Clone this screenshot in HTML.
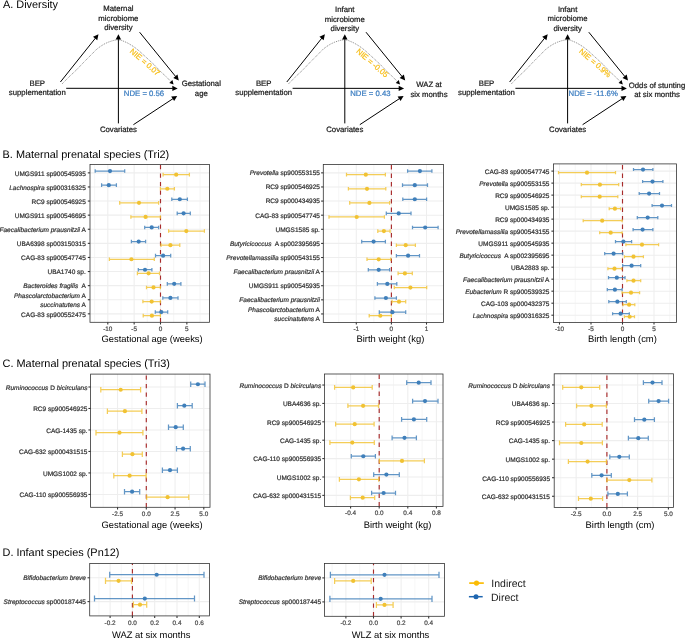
<!DOCTYPE html>
<html><head><meta charset="utf-8"><title>Figure</title>
<style>
html,body{margin:0;padding:0;background:#fff;}
body{width:685px;height:639px;overflow:hidden;}
svg{display:block;font-family:"Liberation Sans", sans-serif;text-rendering:geometricPrecision;will-change:transform;}
</style></head>
<body>
<svg width="685" height="639" viewBox="0 0 685 639">
<rect width="685" height="639" fill="#fff"/>
<text x="3.00" y="7.90" font-size="10.9" text-anchor="start" fill="#000" stroke="#000" stroke-width="0.0" >A. Diversity</text>
<text x="2.60" y="158.00" font-size="10.9" text-anchor="start" fill="#000" stroke="#000" stroke-width="0.0" >B. Maternal prenatal species (Tri2)</text>
<text x="2.60" y="367.10" font-size="10.9" text-anchor="start" fill="#000" stroke="#000" stroke-width="0.0" >C. Maternal prenatal species (Tri3)</text>
<text x="2.60" y="556.20" font-size="10.9" text-anchor="start" fill="#000" stroke="#000" stroke-width="0.0" >D. Infant species (Pn12)</text>
<text x="118.40" y="10.90" font-size="7.75" text-anchor="middle" fill="#1a1a1a" stroke="#1a1a1a" stroke-width="0.22" >Maternal</text>
<text x="118.40" y="20.50" font-size="7.75" text-anchor="middle" fill="#1a1a1a" stroke="#1a1a1a" stroke-width="0.22" >microbiome</text>
<text x="118.40" y="30.10" font-size="7.75" text-anchor="middle" fill="#1a1a1a" stroke="#1a1a1a" stroke-width="0.22" >diversity</text>
<line x1="118.40" y1="123.40" x2="118.40" y2="39.10" stroke="#000" stroke-width="1"/>
<polygon points="118.40,34.20 121.10,39.60 115.70,39.60" fill="#000"/>
<line x1="60.40" y1="82.00" x2="95.44" y2="38.13" stroke="#000" stroke-width="1"/>
<polygon points="98.50,34.30 97.24,40.20 93.02,36.83" fill="#000"/>
<line x1="139.60" y1="32.20" x2="175.71" y2="76.60" stroke="#000" stroke-width="1"/>
<polygon points="178.80,80.40 173.30,77.91 177.49,74.51" fill="#000"/>
<line x1="66.20" y1="88.30" x2="172.80" y2="88.40" stroke="#000" stroke-width="1"/>
<polygon points="177.70,88.40 172.30,91.10 172.30,85.70" fill="#000"/>
<line x1="133.40" y1="124.70" x2="173.11" y2="98.59" stroke="#000" stroke-width="1"/>
<polygon points="177.20,95.90 174.17,101.12 171.20,96.61" fill="#000"/>
<path d="M62.10,83.90 L69.20,76.70 L76.80,69.60 L83.50,62.50 L90.10,55.90 L96.70,49.20 L100.60,46.30 L104.30,44.00 L108.20,42.20 L111.90,40.90 L115.10,40.10 L118.10,39.70 L121.40,40.30 L124.50,41.60 L127.40,42.90 L130.20,44.50 L133.10,46.30 L135.90,48.30 L139.20,51.00 L142.50,54.00 L148.20,59.20 L154.80,65.40 L160.50,71.50 L166.20,76.70 L170.80,81.40" fill="none" stroke="#444" stroke-width="0.65" stroke-dasharray="1.0,1.0" stroke-linejoin="round"/>
<polygon points="173.60,84.40 169.34,82.91 172.41,80.04" fill="#000"/>
<text x="37.30" y="86.10" font-size="7.75" text-anchor="middle" fill="#1a1a1a" stroke="#1a1a1a" stroke-width="0.22" >BEP</text>
<text x="37.30" y="95.20" font-size="7.75" text-anchor="middle" fill="#1a1a1a" stroke="#1a1a1a" stroke-width="0.22" >supplementation</text>
<text x="118.40" y="131.60" font-size="7.75" text-anchor="middle" fill="#1a1a1a" stroke="#1a1a1a" stroke-width="0.22" >Covariates</text>
<text x="201.30" y="86.00" font-size="7.75" text-anchor="middle" fill="#1a1a1a" stroke="#1a1a1a" stroke-width="0.22" >Gestational</text>
<text x="201.30" y="95.60" font-size="7.75" text-anchor="middle" fill="#1a1a1a" stroke="#1a1a1a" stroke-width="0.22" >age</text>
<text x="144.00" y="95.60" font-size="7.75" text-anchor="middle" fill="#3a7cc0" stroke="#3a7cc0" stroke-width="0.22" >NDE = 0.56</text>
<text x="0" y="0" font-size="7.75" fill="#f6bd16" stroke="#f6bd16" stroke-width="0.22" transform="translate(129.30,52.00) rotate(41)">NIE = 0.07</text>
<text x="344.80" y="12.20" font-size="7.75" text-anchor="middle" fill="#1a1a1a" stroke="#1a1a1a" stroke-width="0.22" >Infant</text>
<text x="344.80" y="21.80" font-size="7.75" text-anchor="middle" fill="#1a1a1a" stroke="#1a1a1a" stroke-width="0.22" >microbiome</text>
<text x="344.80" y="31.40" font-size="7.75" text-anchor="middle" fill="#1a1a1a" stroke="#1a1a1a" stroke-width="0.22" >diversity</text>
<line x1="344.80" y1="123.40" x2="344.80" y2="39.10" stroke="#000" stroke-width="1"/>
<polygon points="344.80,34.20 347.50,39.60 342.10,39.60" fill="#000"/>
<line x1="286.80" y1="82.00" x2="321.84" y2="38.13" stroke="#000" stroke-width="1"/>
<polygon points="324.90,34.30 323.64,40.20 319.42,36.83" fill="#000"/>
<line x1="366.00" y1="32.20" x2="402.11" y2="76.60" stroke="#000" stroke-width="1"/>
<polygon points="405.20,80.40 399.70,77.91 403.89,74.51" fill="#000"/>
<line x1="292.60" y1="88.30" x2="399.20" y2="88.40" stroke="#000" stroke-width="1"/>
<polygon points="404.10,88.40 398.70,91.10 398.70,85.70" fill="#000"/>
<line x1="359.80" y1="124.70" x2="399.51" y2="98.59" stroke="#000" stroke-width="1"/>
<polygon points="403.60,95.90 400.57,101.12 397.60,96.61" fill="#000"/>
<path d="M288.50,83.90 L295.60,76.70 L303.20,69.60 L309.90,62.50 L316.50,55.90 L323.10,49.20 L327.00,46.30 L330.70,44.00 L334.60,42.20 L338.30,40.90 L341.50,40.10 L344.50,39.70 L347.80,40.30 L350.90,41.60 L353.80,42.90 L356.60,44.50 L359.50,46.30 L362.30,48.30 L365.60,51.00 L368.90,54.00 L374.60,59.20 L381.20,65.40 L386.90,71.50 L392.60,76.70 L397.20,81.40" fill="none" stroke="#444" stroke-width="0.65" stroke-dasharray="1.0,1.0" stroke-linejoin="round"/>
<polygon points="400.00,84.40 395.74,82.91 398.81,80.04" fill="#000"/>
<text x="263.70" y="86.10" font-size="7.75" text-anchor="middle" fill="#1a1a1a" stroke="#1a1a1a" stroke-width="0.22" >BEP</text>
<text x="263.70" y="95.20" font-size="7.75" text-anchor="middle" fill="#1a1a1a" stroke="#1a1a1a" stroke-width="0.22" >supplementation</text>
<text x="344.80" y="131.60" font-size="7.75" text-anchor="middle" fill="#1a1a1a" stroke="#1a1a1a" stroke-width="0.22" >Covariates</text>
<text x="429.00" y="86.90" font-size="7.75" text-anchor="middle" fill="#1a1a1a" stroke="#1a1a1a" stroke-width="0.22" >WAZ at</text>
<text x="429.00" y="96.50" font-size="7.75" text-anchor="middle" fill="#1a1a1a" stroke="#1a1a1a" stroke-width="0.22" >six months</text>
<text x="370.40" y="95.60" font-size="7.75" text-anchor="middle" fill="#3a7cc0" stroke="#3a7cc0" stroke-width="0.22" >NDE = 0.43</text>
<text x="0" y="0" font-size="7.75" fill="#f6bd16" stroke="#f6bd16" stroke-width="0.22" transform="translate(355.70,52.00) rotate(41)">NIE = -0.05</text>
<text x="567.60" y="11.60" font-size="7.75" text-anchor="middle" fill="#1a1a1a" stroke="#1a1a1a" stroke-width="0.22" >Infant</text>
<text x="567.60" y="21.20" font-size="7.75" text-anchor="middle" fill="#1a1a1a" stroke="#1a1a1a" stroke-width="0.22" >microbiome</text>
<text x="567.60" y="30.80" font-size="7.75" text-anchor="middle" fill="#1a1a1a" stroke="#1a1a1a" stroke-width="0.22" >diversity</text>
<line x1="567.60" y1="123.40" x2="567.60" y2="39.10" stroke="#000" stroke-width="1"/>
<polygon points="567.60,34.20 570.30,39.60 564.90,39.60" fill="#000"/>
<line x1="509.60" y1="82.00" x2="544.64" y2="38.13" stroke="#000" stroke-width="1"/>
<polygon points="547.70,34.30 546.44,40.20 542.22,36.83" fill="#000"/>
<line x1="588.80" y1="32.20" x2="624.91" y2="76.60" stroke="#000" stroke-width="1"/>
<polygon points="628.00,80.40 622.50,77.91 626.69,74.51" fill="#000"/>
<line x1="515.40" y1="88.30" x2="622.00" y2="88.40" stroke="#000" stroke-width="1"/>
<polygon points="626.90,88.40 621.50,91.10 621.50,85.70" fill="#000"/>
<line x1="582.60" y1="124.70" x2="622.31" y2="98.59" stroke="#000" stroke-width="1"/>
<polygon points="626.40,95.90 623.37,101.12 620.40,96.61" fill="#000"/>
<path d="M511.30,83.90 L518.40,76.70 L526.00,69.60 L532.70,62.50 L539.30,55.90 L545.90,49.20 L549.80,46.30 L553.50,44.00 L557.40,42.20 L561.10,40.90 L564.30,40.10 L567.30,39.70 L570.60,40.30 L573.70,41.60 L576.60,42.90 L579.40,44.50 L582.30,46.30 L585.10,48.30 L588.40,51.00 L591.70,54.00 L597.40,59.20 L604.00,65.40 L609.70,71.50 L615.40,76.70 L620.00,81.40" fill="none" stroke="#444" stroke-width="0.65" stroke-dasharray="1.0,1.0" stroke-linejoin="round"/>
<polygon points="622.80,84.40 618.54,82.91 621.61,80.04" fill="#000"/>
<text x="486.50" y="86.10" font-size="7.75" text-anchor="middle" fill="#1a1a1a" stroke="#1a1a1a" stroke-width="0.22" >BEP</text>
<text x="486.50" y="95.20" font-size="7.75" text-anchor="middle" fill="#1a1a1a" stroke="#1a1a1a" stroke-width="0.22" >supplementation</text>
<text x="567.60" y="131.60" font-size="7.75" text-anchor="middle" fill="#1a1a1a" stroke="#1a1a1a" stroke-width="0.22" >Covariates</text>
<text x="657.00" y="87.80" font-size="7.75" text-anchor="middle" fill="#1a1a1a" stroke="#1a1a1a" stroke-width="0.22" >Odds of stunting</text>
<text x="657.00" y="97.40" font-size="7.75" text-anchor="middle" fill="#1a1a1a" stroke="#1a1a1a" stroke-width="0.22" >at six months</text>
<text x="593.20" y="95.60" font-size="7.75" text-anchor="middle" fill="#3a7cc0" stroke="#3a7cc0" stroke-width="0.22" >NDE = -11.6%</text>
<text x="0" y="0" font-size="7.75" fill="#f6bd16" stroke="#f6bd16" stroke-width="0.22" transform="translate(578.50,52.00) rotate(41)">NIE = 0.9%</text>
<g>
<line x1="94.62" y1="164.40" x2="94.62" y2="322.30" stroke="#eeeeee" stroke-width="0.55"/>
<line x1="120.97" y1="164.40" x2="120.97" y2="322.30" stroke="#eeeeee" stroke-width="0.55"/>
<line x1="147.32" y1="164.40" x2="147.32" y2="322.30" stroke="#eeeeee" stroke-width="0.55"/>
<line x1="173.68" y1="164.40" x2="173.68" y2="322.30" stroke="#eeeeee" stroke-width="0.55"/>
<line x1="200.03" y1="164.40" x2="200.03" y2="322.30" stroke="#eeeeee" stroke-width="0.55"/>
<line x1="107.80" y1="164.40" x2="107.80" y2="322.30" stroke="#eeeeee" stroke-width="1.07"/>
<line x1="134.15" y1="164.40" x2="134.15" y2="322.30" stroke="#eeeeee" stroke-width="1.07"/>
<line x1="160.50" y1="164.40" x2="160.50" y2="322.30" stroke="#eeeeee" stroke-width="1.07"/>
<line x1="186.85" y1="164.40" x2="186.85" y2="322.30" stroke="#eeeeee" stroke-width="1.07"/>
<line x1="90.00" y1="172.86" x2="209.40" y2="172.86" stroke="#eeeeee" stroke-width="1.07"/>
<line x1="90.00" y1="186.96" x2="209.40" y2="186.96" stroke="#eeeeee" stroke-width="1.07"/>
<line x1="90.00" y1="201.06" x2="209.40" y2="201.06" stroke="#eeeeee" stroke-width="1.07"/>
<line x1="90.00" y1="215.15" x2="209.40" y2="215.15" stroke="#eeeeee" stroke-width="1.07"/>
<line x1="90.00" y1="229.25" x2="209.40" y2="229.25" stroke="#eeeeee" stroke-width="1.07"/>
<line x1="90.00" y1="243.35" x2="209.40" y2="243.35" stroke="#eeeeee" stroke-width="1.07"/>
<line x1="90.00" y1="257.45" x2="209.40" y2="257.45" stroke="#eeeeee" stroke-width="1.07"/>
<line x1="90.00" y1="271.55" x2="209.40" y2="271.55" stroke="#eeeeee" stroke-width="1.07"/>
<line x1="90.00" y1="285.64" x2="209.40" y2="285.64" stroke="#eeeeee" stroke-width="1.07"/>
<line x1="90.00" y1="299.74" x2="209.40" y2="299.74" stroke="#eeeeee" stroke-width="1.07"/>
<line x1="90.00" y1="313.84" x2="209.40" y2="313.84" stroke="#eeeeee" stroke-width="1.07"/>
<line x1="160.50" y1="322.30" x2="160.50" y2="164.40" stroke="#a82c2c" stroke-width="1.15" stroke-dasharray="4.3,4.2"/>
<path d="M95.20,171.05H124.70M95.20,169.26V172.85M124.70,169.26V172.85" stroke="#3f7fba" stroke-width="1.25" stroke-opacity="0.82" fill="none"/>
<circle cx="110.00" cy="171.05" r="2.1" fill="#3f7fba"/>
<path d="M101.60,185.15H116.40M101.60,183.36V186.95M116.40,183.36V186.95" stroke="#3f7fba" stroke-width="1.25" stroke-opacity="0.82" fill="none"/>
<circle cx="108.80" cy="185.15" r="2.1" fill="#3f7fba"/>
<path d="M171.80,199.25H187.40M171.80,197.45V201.05M187.40,197.45V201.05" stroke="#3f7fba" stroke-width="1.25" stroke-opacity="0.82" fill="none"/>
<circle cx="179.80" cy="199.25" r="2.1" fill="#3f7fba"/>
<path d="M177.20,213.35H190.30M177.20,211.55V215.15M190.30,211.55V215.15" stroke="#3f7fba" stroke-width="1.25" stroke-opacity="0.82" fill="none"/>
<circle cx="183.60" cy="213.35" r="2.1" fill="#3f7fba"/>
<path d="M144.70,227.45H158.60M144.70,225.65V229.24M158.60,225.65V229.24" stroke="#3f7fba" stroke-width="1.25" stroke-opacity="0.82" fill="none"/>
<circle cx="151.70" cy="227.45" r="2.1" fill="#3f7fba"/>
<path d="M131.40,241.55H145.60M131.40,239.75V243.34M145.60,239.75V243.34" stroke="#3f7fba" stroke-width="1.25" stroke-opacity="0.82" fill="none"/>
<circle cx="138.70" cy="241.55" r="2.1" fill="#3f7fba"/>
<path d="M155.50,255.64H170.70M155.50,253.85V257.44M170.70,253.85V257.44" stroke="#3f7fba" stroke-width="1.25" stroke-opacity="0.82" fill="none"/>
<circle cx="163.10" cy="255.64" r="2.1" fill="#3f7fba"/>
<path d="M138.30,269.74H151.90M138.30,267.94V271.54M151.90,267.94V271.54" stroke="#3f7fba" stroke-width="1.25" stroke-opacity="0.82" fill="none"/>
<circle cx="145.00" cy="269.74" r="2.1" fill="#3f7fba"/>
<path d="M167.30,283.84H180.90M167.30,282.04V285.64M180.90,282.04V285.64" stroke="#3f7fba" stroke-width="1.25" stroke-opacity="0.82" fill="none"/>
<circle cx="174.20" cy="283.84" r="2.1" fill="#3f7fba"/>
<path d="M162.80,297.94H178.00M162.80,296.14V299.74M178.00,296.14V299.74" stroke="#3f7fba" stroke-width="1.25" stroke-opacity="0.82" fill="none"/>
<circle cx="170.40" cy="297.94" r="2.1" fill="#3f7fba"/>
<path d="M155.30,312.04H167.70M155.30,310.24V313.83M167.70,310.24V313.83" stroke="#3f7fba" stroke-width="1.25" stroke-opacity="0.82" fill="none"/>
<circle cx="161.30" cy="312.04" r="2.1" fill="#3f7fba"/>
<path d="M163.10,174.66H189.40M163.10,172.87V176.46M189.40,172.87V176.46" stroke="#f1c232" stroke-width="1.25" stroke-opacity="0.82" fill="none"/>
<circle cx="176.20" cy="174.66" r="2.1" fill="#f1c232"/>
<path d="M160.40,188.76H174.40M160.40,186.96V190.56M174.40,186.96V190.56" stroke="#f1c232" stroke-width="1.25" stroke-opacity="0.82" fill="none"/>
<circle cx="167.30" cy="188.76" r="2.1" fill="#f1c232"/>
<path d="M119.70,202.86H158.60M119.70,201.06V204.66M158.60,201.06V204.66" stroke="#f1c232" stroke-width="1.25" stroke-opacity="0.82" fill="none"/>
<circle cx="139.00" cy="202.86" r="2.1" fill="#f1c232"/>
<path d="M130.90,216.96H160.40M130.90,215.16V218.76M160.40,215.16V218.76" stroke="#f1c232" stroke-width="1.25" stroke-opacity="0.82" fill="none"/>
<circle cx="145.60" cy="216.96" r="2.1" fill="#f1c232"/>
<path d="M168.60,231.06H204.40M168.60,229.26V232.85M204.40,229.26V232.85" stroke="#f1c232" stroke-width="1.25" stroke-opacity="0.82" fill="none"/>
<circle cx="186.30" cy="231.06" r="2.1" fill="#f1c232"/>
<path d="M161.00,245.15H179.80M161.00,243.36V246.95M179.80,243.36V246.95" stroke="#f1c232" stroke-width="1.25" stroke-opacity="0.82" fill="none"/>
<circle cx="170.40" cy="245.15" r="2.1" fill="#f1c232"/>
<path d="M109.40,259.25H154.30M109.40,257.46V261.05M154.30,257.46V261.05" stroke="#f1c232" stroke-width="1.25" stroke-opacity="0.82" fill="none"/>
<circle cx="131.40" cy="259.25" r="2.1" fill="#f1c232"/>
<path d="M137.40,273.35H159.50M137.40,271.55V275.15M159.50,271.55V275.15" stroke="#f1c232" stroke-width="1.25" stroke-opacity="0.82" fill="none"/>
<circle cx="148.60" cy="273.35" r="2.1" fill="#f1c232"/>
<path d="M146.50,287.45H160.40M146.50,285.65V289.25M160.40,285.65V289.25" stroke="#f1c232" stroke-width="1.25" stroke-opacity="0.82" fill="none"/>
<circle cx="153.50" cy="287.45" r="2.1" fill="#f1c232"/>
<path d="M142.90,301.55H160.40M142.90,299.75V303.34M160.40,299.75V303.34" stroke="#f1c232" stroke-width="1.25" stroke-opacity="0.82" fill="none"/>
<circle cx="151.70" cy="301.55" r="2.1" fill="#f1c232"/>
<path d="M143.20,315.65H160.40M143.20,313.85V317.44M160.40,313.85V317.44" stroke="#f1c232" stroke-width="1.25" stroke-opacity="0.82" fill="none"/>
<circle cx="151.90" cy="315.65" r="2.1" fill="#f1c232"/>
<rect x="90.00" y="164.40" width="119.40" height="157.90" fill="none" stroke="#333333" stroke-width="0.8"/>
<line x1="87.80" y1="172.86" x2="90.00" y2="172.86" stroke="#333333" stroke-width="1.07"/>
<text x="85.80" y="175.66" font-size="6.5" text-anchor="end" fill="#333" stroke="#333" stroke-width="0.22" >UMGS911 sp900545935</text>
<line x1="87.80" y1="186.96" x2="90.00" y2="186.96" stroke="#333333" stroke-width="1.07"/>
<text x="85.80" y="189.76" font-size="6.5" text-anchor="end" fill="#333" stroke="#333" stroke-width="0.22" ><tspan font-style="italic">Lachnospira</tspan> sp900316325</text>
<line x1="87.80" y1="201.06" x2="90.00" y2="201.06" stroke="#333333" stroke-width="1.07"/>
<text x="85.80" y="203.86" font-size="6.5" text-anchor="end" fill="#333" stroke="#333" stroke-width="0.22" >RC9 sp900546925</text>
<line x1="87.80" y1="215.15" x2="90.00" y2="215.15" stroke="#333333" stroke-width="1.07"/>
<text x="85.80" y="217.95" font-size="6.5" text-anchor="end" fill="#333" stroke="#333" stroke-width="0.22" >UMGS911 sp900546695</text>
<line x1="87.80" y1="229.25" x2="90.00" y2="229.25" stroke="#333333" stroke-width="1.07"/>
<text x="85.80" y="232.05" font-size="6.5" text-anchor="end" fill="#333" stroke="#333" stroke-width="0.22" ><tspan font-style="italic">Faecalibacterium prausnitzii</tspan> A</text>
<line x1="87.80" y1="243.35" x2="90.00" y2="243.35" stroke="#333333" stroke-width="1.07"/>
<text x="85.80" y="246.15" font-size="6.5" text-anchor="end" fill="#333" stroke="#333" stroke-width="0.22" >UBA6398 sp003150315</text>
<line x1="87.80" y1="257.45" x2="90.00" y2="257.45" stroke="#333333" stroke-width="1.07"/>
<text x="85.80" y="260.25" font-size="6.5" text-anchor="end" fill="#333" stroke="#333" stroke-width="0.22" >CAG-83 sp900547745</text>
<line x1="87.80" y1="271.55" x2="90.00" y2="271.55" stroke="#333333" stroke-width="1.07"/>
<text x="85.80" y="274.35" font-size="6.5" text-anchor="end" fill="#333" stroke="#333" stroke-width="0.22" >UBA1740 sp.</text>
<line x1="87.80" y1="285.64" x2="90.00" y2="285.64" stroke="#333333" stroke-width="1.07"/>
<text x="85.80" y="288.44" font-size="6.5" text-anchor="end" fill="#333" stroke="#333" stroke-width="0.22" ><tspan font-style="italic">Bacteroides fragilis</tspan>&#160; A</text>
<line x1="87.80" y1="299.74" x2="90.00" y2="299.74" stroke="#333333" stroke-width="1.07"/>
<text x="85.80" y="298.14" font-size="6.5" text-anchor="end" fill="#333" stroke="#333" stroke-width="0.22" ><tspan font-style="italic">Phascolarctobacterium</tspan> A</text>
<text x="85.80" y="306.84" font-size="6.5" text-anchor="end" fill="#333" stroke="#333" stroke-width="0.22" ><tspan font-style="italic">succinatutens</tspan> A</text>
<line x1="87.80" y1="313.84" x2="90.00" y2="313.84" stroke="#333333" stroke-width="1.07"/>
<text x="85.80" y="316.64" font-size="6.5" text-anchor="end" fill="#333" stroke="#333" stroke-width="0.22" >CAG-83 sp900552475</text>
<line x1="107.80" y1="322.30" x2="107.80" y2="324.50" stroke="#333333" stroke-width="1.07"/>
<text x="107.80" y="330.90" font-size="6.4" text-anchor="middle" fill="#4d4d4d" stroke="#4d4d4d" stroke-width="0.22" >-10</text>
<line x1="134.15" y1="322.30" x2="134.15" y2="324.50" stroke="#333333" stroke-width="1.07"/>
<text x="134.15" y="330.90" font-size="6.4" text-anchor="middle" fill="#4d4d4d" stroke="#4d4d4d" stroke-width="0.22" >-5</text>
<line x1="160.50" y1="322.30" x2="160.50" y2="324.50" stroke="#333333" stroke-width="1.07"/>
<text x="160.50" y="330.90" font-size="6.4" text-anchor="middle" fill="#4d4d4d" stroke="#4d4d4d" stroke-width="0.22" >0</text>
<line x1="186.85" y1="322.30" x2="186.85" y2="324.50" stroke="#333333" stroke-width="1.07"/>
<text x="186.85" y="330.90" font-size="6.4" text-anchor="middle" fill="#4d4d4d" stroke="#4d4d4d" stroke-width="0.22" >5</text>
<text x="152.10" y="342.20" font-size="9.4" text-anchor="middle" fill="#000" stroke="#000" stroke-width="0.0" >Gestational age (weeks)</text>
</g>
<g>
<line x1="338.75" y1="164.40" x2="338.75" y2="322.40" stroke="#eeeeee" stroke-width="0.55"/>
<line x1="373.85" y1="164.40" x2="373.85" y2="322.40" stroke="#eeeeee" stroke-width="0.55"/>
<line x1="408.95" y1="164.40" x2="408.95" y2="322.40" stroke="#eeeeee" stroke-width="0.55"/>
<line x1="356.30" y1="164.40" x2="356.30" y2="322.40" stroke="#eeeeee" stroke-width="1.07"/>
<line x1="391.40" y1="164.40" x2="391.40" y2="322.40" stroke="#eeeeee" stroke-width="1.07"/>
<line x1="426.50" y1="164.40" x2="426.50" y2="322.40" stroke="#eeeeee" stroke-width="1.07"/>
<line x1="323.30" y1="172.86" x2="443.40" y2="172.86" stroke="#eeeeee" stroke-width="1.07"/>
<line x1="323.30" y1="186.97" x2="443.40" y2="186.97" stroke="#eeeeee" stroke-width="1.07"/>
<line x1="323.30" y1="201.08" x2="443.40" y2="201.08" stroke="#eeeeee" stroke-width="1.07"/>
<line x1="323.30" y1="215.19" x2="443.40" y2="215.19" stroke="#eeeeee" stroke-width="1.07"/>
<line x1="323.30" y1="229.29" x2="443.40" y2="229.29" stroke="#eeeeee" stroke-width="1.07"/>
<line x1="323.30" y1="243.40" x2="443.40" y2="243.40" stroke="#eeeeee" stroke-width="1.07"/>
<line x1="323.30" y1="257.51" x2="443.40" y2="257.51" stroke="#eeeeee" stroke-width="1.07"/>
<line x1="323.30" y1="271.61" x2="443.40" y2="271.61" stroke="#eeeeee" stroke-width="1.07"/>
<line x1="323.30" y1="285.72" x2="443.40" y2="285.72" stroke="#eeeeee" stroke-width="1.07"/>
<line x1="323.30" y1="299.83" x2="443.40" y2="299.83" stroke="#eeeeee" stroke-width="1.07"/>
<line x1="323.30" y1="313.94" x2="443.40" y2="313.94" stroke="#eeeeee" stroke-width="1.07"/>
<line x1="391.40" y1="322.40" x2="391.40" y2="164.40" stroke="#a82c2c" stroke-width="1.15" stroke-dasharray="4.3,4.2"/>
<path d="M407.60,171.06H431.90M407.60,169.26V172.86M431.90,169.26V172.86" stroke="#3f7fba" stroke-width="1.25" stroke-opacity="0.82" fill="none"/>
<circle cx="419.90" cy="171.06" r="2.1" fill="#3f7fba"/>
<path d="M402.50,185.17H427.50M402.50,183.37V186.96M427.50,183.37V186.96" stroke="#3f7fba" stroke-width="1.25" stroke-opacity="0.82" fill="none"/>
<circle cx="414.80" cy="185.17" r="2.1" fill="#3f7fba"/>
<path d="M402.80,199.27H426.60M402.80,197.47V201.07M426.60,197.47V201.07" stroke="#3f7fba" stroke-width="1.25" stroke-opacity="0.82" fill="none"/>
<circle cx="414.80" cy="199.27" r="2.1" fill="#3f7fba"/>
<path d="M386.30,213.38H411.00M386.30,211.58V215.18M411.00,211.58V215.18" stroke="#3f7fba" stroke-width="1.25" stroke-opacity="0.82" fill="none"/>
<circle cx="398.70" cy="213.38" r="2.1" fill="#3f7fba"/>
<path d="M412.50,227.49H438.10M412.50,225.69V229.29M438.10,225.69V229.29" stroke="#3f7fba" stroke-width="1.25" stroke-opacity="0.82" fill="none"/>
<circle cx="425.20" cy="227.49" r="2.1" fill="#3f7fba"/>
<path d="M361.70,241.59H385.40M361.70,239.80V243.39M385.40,239.80V243.39" stroke="#3f7fba" stroke-width="1.25" stroke-opacity="0.82" fill="none"/>
<circle cx="373.60" cy="241.59" r="2.1" fill="#3f7fba"/>
<path d="M396.40,255.70H419.50M396.40,253.90V257.50M419.50,253.90V257.50" stroke="#3f7fba" stroke-width="1.25" stroke-opacity="0.82" fill="none"/>
<circle cx="408.10" cy="255.70" r="2.1" fill="#3f7fba"/>
<path d="M368.30,269.81H389.60M368.30,268.01V271.61M389.60,268.01V271.61" stroke="#3f7fba" stroke-width="1.25" stroke-opacity="0.82" fill="none"/>
<circle cx="378.70" cy="269.81" r="2.1" fill="#3f7fba"/>
<path d="M377.40,283.92H396.80M377.40,282.12V285.71M396.80,282.12V285.71" stroke="#3f7fba" stroke-width="1.25" stroke-opacity="0.82" fill="none"/>
<circle cx="387.30" cy="283.92" r="2.1" fill="#3f7fba"/>
<path d="M374.90,298.02H396.40M374.90,296.22V299.82M396.40,296.22V299.82" stroke="#3f7fba" stroke-width="1.25" stroke-opacity="0.82" fill="none"/>
<circle cx="385.90" cy="298.02" r="2.1" fill="#3f7fba"/>
<path d="M379.30,312.13H405.70M379.30,310.33V313.93M405.70,310.33V313.93" stroke="#3f7fba" stroke-width="1.25" stroke-opacity="0.82" fill="none"/>
<circle cx="392.40" cy="312.13" r="2.1" fill="#3f7fba"/>
<path d="M346.50,174.67H385.40M346.50,172.87V176.47M385.40,172.87V176.47" stroke="#f1c232" stroke-width="1.25" stroke-opacity="0.82" fill="none"/>
<circle cx="365.80" cy="174.67" r="2.1" fill="#f1c232"/>
<path d="M348.40,188.78H385.80M348.40,186.98V190.58M385.80,186.98V190.58" stroke="#f1c232" stroke-width="1.25" stroke-opacity="0.82" fill="none"/>
<circle cx="367.00" cy="188.78" r="2.1" fill="#f1c232"/>
<path d="M349.70,202.88H389.60M349.70,201.09V204.68M389.60,201.09V204.68" stroke="#f1c232" stroke-width="1.25" stroke-opacity="0.82" fill="none"/>
<circle cx="369.40" cy="202.88" r="2.1" fill="#f1c232"/>
<path d="M329.00,216.99H384.40M329.00,215.19V218.79M384.40,215.19V218.79" stroke="#f1c232" stroke-width="1.25" stroke-opacity="0.82" fill="none"/>
<circle cx="356.70" cy="216.99" r="2.1" fill="#f1c232"/>
<path d="M377.80,231.10H390.10M377.80,229.30V232.90M390.10,229.30V232.90" stroke="#f1c232" stroke-width="1.25" stroke-opacity="0.82" fill="none"/>
<circle cx="383.90" cy="231.10" r="2.1" fill="#f1c232"/>
<path d="M396.40,245.21H415.40M396.40,243.41V247.00M415.40,243.41V247.00" stroke="#f1c232" stroke-width="1.25" stroke-opacity="0.82" fill="none"/>
<circle cx="405.70" cy="245.21" r="2.1" fill="#f1c232"/>
<path d="M367.00,259.31H390.70M367.00,257.51V261.11M390.70,257.51V261.11" stroke="#f1c232" stroke-width="1.25" stroke-opacity="0.82" fill="none"/>
<circle cx="378.70" cy="259.31" r="2.1" fill="#f1c232"/>
<path d="M398.10,273.42H412.30M398.10,271.62V275.22M412.30,271.62V275.22" stroke="#f1c232" stroke-width="1.25" stroke-opacity="0.82" fill="none"/>
<circle cx="404.90" cy="273.42" r="2.1" fill="#f1c232"/>
<path d="M394.30,287.53H426.70M394.30,285.73V289.33M426.70,285.73V289.33" stroke="#f1c232" stroke-width="1.25" stroke-opacity="0.82" fill="none"/>
<circle cx="410.40" cy="287.53" r="2.1" fill="#f1c232"/>
<path d="M392.00,301.63H405.70M392.00,299.84V303.43M405.70,299.84V303.43" stroke="#f1c232" stroke-width="1.25" stroke-opacity="0.82" fill="none"/>
<circle cx="399.00" cy="301.63" r="2.1" fill="#f1c232"/>
<path d="M369.20,315.74H391.40M369.20,313.94V317.54M391.40,313.94V317.54" stroke="#f1c232" stroke-width="1.25" stroke-opacity="0.82" fill="none"/>
<circle cx="380.30" cy="315.74" r="2.1" fill="#f1c232"/>
<rect x="323.30" y="164.40" width="120.10" height="158.00" fill="none" stroke="#333333" stroke-width="0.8"/>
<line x1="321.10" y1="172.86" x2="323.30" y2="172.86" stroke="#333333" stroke-width="1.07"/>
<text x="319.90" y="175.26" font-size="6.5" text-anchor="end" fill="#333" stroke="#333" stroke-width="0.22" ><tspan font-style="italic">Prevotella</tspan> sp900553155</text>
<line x1="321.10" y1="186.97" x2="323.30" y2="186.97" stroke="#333333" stroke-width="1.07"/>
<text x="319.90" y="189.37" font-size="6.5" text-anchor="end" fill="#333" stroke="#333" stroke-width="0.22" >RC9 sp900546925</text>
<line x1="321.10" y1="201.08" x2="323.30" y2="201.08" stroke="#333333" stroke-width="1.07"/>
<text x="319.90" y="203.48" font-size="6.5" text-anchor="end" fill="#333" stroke="#333" stroke-width="0.22" >RC9 sp000434935</text>
<line x1="321.10" y1="215.19" x2="323.30" y2="215.19" stroke="#333333" stroke-width="1.07"/>
<text x="319.90" y="217.59" font-size="6.5" text-anchor="end" fill="#333" stroke="#333" stroke-width="0.22" >CAG-83 sp900547745</text>
<line x1="321.10" y1="229.29" x2="323.30" y2="229.29" stroke="#333333" stroke-width="1.07"/>
<text x="319.90" y="231.69" font-size="6.5" text-anchor="end" fill="#333" stroke="#333" stroke-width="0.22" >UMGS1585 sp.</text>
<line x1="321.10" y1="243.40" x2="323.30" y2="243.40" stroke="#333333" stroke-width="1.07"/>
<text x="319.90" y="245.80" font-size="6.5" text-anchor="end" fill="#333" stroke="#333" stroke-width="0.22" ><tspan font-style="italic">Butyricicoccus</tspan>&#160; A sp002395695</text>
<line x1="321.10" y1="257.51" x2="323.30" y2="257.51" stroke="#333333" stroke-width="1.07"/>
<text x="319.90" y="259.91" font-size="6.5" text-anchor="end" fill="#333" stroke="#333" stroke-width="0.22" ><tspan font-style="italic">Prevotellamassilia</tspan> sp900543155</text>
<line x1="321.10" y1="271.61" x2="323.30" y2="271.61" stroke="#333333" stroke-width="1.07"/>
<text x="319.90" y="274.01" font-size="6.5" text-anchor="end" fill="#333" stroke="#333" stroke-width="0.22" ><tspan font-style="italic">Faecalibacterium prausnitzii</tspan> A</text>
<line x1="321.10" y1="285.72" x2="323.30" y2="285.72" stroke="#333333" stroke-width="1.07"/>
<text x="319.90" y="288.12" font-size="6.5" text-anchor="end" fill="#333" stroke="#333" stroke-width="0.22" >UMGS911 sp900545935</text>
<line x1="321.10" y1="299.83" x2="323.30" y2="299.83" stroke="#333333" stroke-width="1.07"/>
<text x="319.90" y="302.23" font-size="6.5" text-anchor="end" fill="#333" stroke="#333" stroke-width="0.22" ><tspan font-style="italic">Faecalibacterium prausnitzii</tspan></text>
<line x1="321.10" y1="313.94" x2="323.30" y2="313.94" stroke="#333333" stroke-width="1.07"/>
<text x="319.90" y="311.94" font-size="6.5" text-anchor="end" fill="#333" stroke="#333" stroke-width="0.22" ><tspan font-style="italic">Phascolarctobacterium</tspan> A</text>
<text x="319.90" y="320.64" font-size="6.5" text-anchor="end" fill="#333" stroke="#333" stroke-width="0.22" ><tspan font-style="italic">succinatutens</tspan> A</text>
<line x1="356.30" y1="322.40" x2="356.30" y2="324.60" stroke="#333333" stroke-width="1.07"/>
<text x="356.30" y="331.00" font-size="6.4" text-anchor="middle" fill="#4d4d4d" stroke="#4d4d4d" stroke-width="0.22" >-1</text>
<line x1="391.40" y1="322.40" x2="391.40" y2="324.60" stroke="#333333" stroke-width="1.07"/>
<text x="391.40" y="331.00" font-size="6.4" text-anchor="middle" fill="#4d4d4d" stroke="#4d4d4d" stroke-width="0.22" >0</text>
<line x1="426.50" y1="322.40" x2="426.50" y2="324.60" stroke="#333333" stroke-width="1.07"/>
<text x="426.50" y="331.00" font-size="6.4" text-anchor="middle" fill="#4d4d4d" stroke="#4d4d4d" stroke-width="0.22" >1</text>
<text x="390.40" y="342.20" font-size="9.4" text-anchor="middle" fill="#000" stroke="#000" stroke-width="0.0" >Birth weight (kg)</text>
</g>
<g>
<line x1="575.25" y1="163.90" x2="575.25" y2="322.40" stroke="#eeeeee" stroke-width="0.55"/>
<line x1="606.75" y1="163.90" x2="606.75" y2="322.40" stroke="#eeeeee" stroke-width="0.55"/>
<line x1="638.25" y1="163.90" x2="638.25" y2="322.40" stroke="#eeeeee" stroke-width="0.55"/>
<line x1="669.75" y1="163.90" x2="669.75" y2="322.40" stroke="#eeeeee" stroke-width="0.55"/>
<line x1="559.50" y1="163.90" x2="559.50" y2="322.40" stroke="#eeeeee" stroke-width="1.07"/>
<line x1="591.00" y1="163.90" x2="591.00" y2="322.40" stroke="#eeeeee" stroke-width="1.07"/>
<line x1="622.50" y1="163.90" x2="622.50" y2="322.40" stroke="#eeeeee" stroke-width="1.07"/>
<line x1="654.00" y1="163.90" x2="654.00" y2="322.40" stroke="#eeeeee" stroke-width="1.07"/>
<line x1="553.60" y1="171.10" x2="676.50" y2="171.10" stroke="#eeeeee" stroke-width="1.07"/>
<line x1="553.60" y1="183.11" x2="676.50" y2="183.11" stroke="#eeeeee" stroke-width="1.07"/>
<line x1="553.60" y1="195.12" x2="676.50" y2="195.12" stroke="#eeeeee" stroke-width="1.07"/>
<line x1="553.60" y1="207.13" x2="676.50" y2="207.13" stroke="#eeeeee" stroke-width="1.07"/>
<line x1="553.60" y1="219.13" x2="676.50" y2="219.13" stroke="#eeeeee" stroke-width="1.07"/>
<line x1="553.60" y1="231.14" x2="676.50" y2="231.14" stroke="#eeeeee" stroke-width="1.07"/>
<line x1="553.60" y1="243.15" x2="676.50" y2="243.15" stroke="#eeeeee" stroke-width="1.07"/>
<line x1="553.60" y1="255.16" x2="676.50" y2="255.16" stroke="#eeeeee" stroke-width="1.07"/>
<line x1="553.60" y1="267.17" x2="676.50" y2="267.17" stroke="#eeeeee" stroke-width="1.07"/>
<line x1="553.60" y1="279.17" x2="676.50" y2="279.17" stroke="#eeeeee" stroke-width="1.07"/>
<line x1="553.60" y1="291.18" x2="676.50" y2="291.18" stroke="#eeeeee" stroke-width="1.07"/>
<line x1="553.60" y1="303.19" x2="676.50" y2="303.19" stroke="#eeeeee" stroke-width="1.07"/>
<line x1="553.60" y1="315.20" x2="676.50" y2="315.20" stroke="#eeeeee" stroke-width="1.07"/>
<line x1="622.50" y1="322.40" x2="622.50" y2="163.90" stroke="#a82c2c" stroke-width="1.15" stroke-dasharray="4.3,4.2"/>
<path d="M633.50,169.57H652.90M633.50,168.04V171.10M652.90,168.04V171.10" stroke="#3f7fba" stroke-width="1.25" stroke-opacity="0.82" fill="none"/>
<circle cx="643.00" cy="169.57" r="2.1" fill="#3f7fba"/>
<path d="M642.60,181.58H662.90M642.60,180.04V183.11M662.90,180.04V183.11" stroke="#3f7fba" stroke-width="1.25" stroke-opacity="0.82" fill="none"/>
<circle cx="652.50" cy="181.58" r="2.1" fill="#3f7fba"/>
<path d="M639.20,193.58H659.50M639.20,192.05V195.11M659.50,192.05V195.11" stroke="#3f7fba" stroke-width="1.25" stroke-opacity="0.82" fill="none"/>
<circle cx="649.10" cy="193.58" r="2.1" fill="#3f7fba"/>
<path d="M652.10,205.59H671.50M652.10,204.06V207.12M671.50,204.06V207.12" stroke="#3f7fba" stroke-width="1.25" stroke-opacity="0.82" fill="none"/>
<circle cx="662.00" cy="205.59" r="2.1" fill="#3f7fba"/>
<path d="M637.30,217.60H657.80M637.30,216.07V219.13M657.80,216.07V219.13" stroke="#3f7fba" stroke-width="1.25" stroke-opacity="0.82" fill="none"/>
<circle cx="647.70" cy="217.60" r="2.1" fill="#3f7fba"/>
<path d="M633.10,229.61H652.90M633.10,228.07V231.14M652.90,228.07V231.14" stroke="#3f7fba" stroke-width="1.25" stroke-opacity="0.82" fill="none"/>
<circle cx="642.60" cy="229.61" r="2.1" fill="#3f7fba"/>
<path d="M615.50,241.61H631.60M615.50,240.08V243.14M631.60,240.08V243.14" stroke="#3f7fba" stroke-width="1.25" stroke-opacity="0.82" fill="none"/>
<circle cx="623.40" cy="241.61" r="2.1" fill="#3f7fba"/>
<path d="M604.70,253.62H622.70M604.70,252.09V255.15M622.70,252.09V255.15" stroke="#3f7fba" stroke-width="1.25" stroke-opacity="0.82" fill="none"/>
<circle cx="613.60" cy="253.62" r="2.1" fill="#3f7fba"/>
<path d="M622.70,265.63H640.70M622.70,264.10V267.16M640.70,264.10V267.16" stroke="#3f7fba" stroke-width="1.25" stroke-opacity="0.82" fill="none"/>
<circle cx="631.60" cy="265.63" r="2.1" fill="#3f7fba"/>
<path d="M608.50,277.64H625.00M608.50,276.10V279.17M625.00,276.10V279.17" stroke="#3f7fba" stroke-width="1.25" stroke-opacity="0.82" fill="none"/>
<circle cx="616.80" cy="277.64" r="2.1" fill="#3f7fba"/>
<path d="M607.30,289.64H622.10M607.30,288.11V291.17M622.10,288.11V291.17" stroke="#3f7fba" stroke-width="1.25" stroke-opacity="0.82" fill="none"/>
<circle cx="614.90" cy="289.64" r="2.1" fill="#3f7fba"/>
<path d="M608.80,301.65H626.30M608.80,300.12V303.18M626.30,300.12V303.18" stroke="#3f7fba" stroke-width="1.25" stroke-opacity="0.82" fill="none"/>
<circle cx="617.40" cy="301.65" r="2.1" fill="#3f7fba"/>
<path d="M612.60,313.66H629.30M612.60,312.13V315.19M629.30,312.13V315.19" stroke="#3f7fba" stroke-width="1.25" stroke-opacity="0.82" fill="none"/>
<circle cx="620.60" cy="313.66" r="2.1" fill="#3f7fba"/>
<path d="M558.50,172.64H615.50M558.50,171.11V174.17M615.50,171.11V174.17" stroke="#f1c232" stroke-width="1.25" stroke-opacity="0.82" fill="none"/>
<circle cx="587.00" cy="172.64" r="2.1" fill="#f1c232"/>
<path d="M581.30,184.65H618.70M581.30,183.12V186.18M618.70,183.12V186.18" stroke="#f1c232" stroke-width="1.25" stroke-opacity="0.82" fill="none"/>
<circle cx="599.90" cy="184.65" r="2.1" fill="#f1c232"/>
<path d="M581.30,196.66H617.80M581.30,195.13V198.19M617.80,195.13V198.19" stroke="#f1c232" stroke-width="1.25" stroke-opacity="0.82" fill="none"/>
<circle cx="599.70" cy="196.66" r="2.1" fill="#f1c232"/>
<path d="M609.20,208.66H620.60M609.20,207.13V210.20M620.60,207.13V210.20" stroke="#f1c232" stroke-width="1.25" stroke-opacity="0.82" fill="none"/>
<circle cx="614.90" cy="208.66" r="2.1" fill="#f1c232"/>
<path d="M583.20,220.67H622.10M583.20,219.14V222.20M622.10,219.14V222.20" stroke="#f1c232" stroke-width="1.25" stroke-opacity="0.82" fill="none"/>
<circle cx="602.20" cy="220.67" r="2.1" fill="#f1c232"/>
<path d="M599.70,232.68H622.10M599.70,231.15V234.21M622.10,231.15V234.21" stroke="#f1c232" stroke-width="1.25" stroke-opacity="0.82" fill="none"/>
<circle cx="610.70" cy="232.68" r="2.1" fill="#f1c232"/>
<path d="M625.90,244.69H658.60M625.90,243.16V246.22M658.60,243.16V246.22" stroke="#f1c232" stroke-width="1.25" stroke-opacity="0.82" fill="none"/>
<circle cx="642.00" cy="244.69" r="2.1" fill="#f1c232"/>
<path d="M624.40,256.69H643.40M624.40,255.16V258.23M643.40,255.16V258.23" stroke="#f1c232" stroke-width="1.25" stroke-opacity="0.82" fill="none"/>
<circle cx="633.50" cy="256.69" r="2.1" fill="#f1c232"/>
<path d="M607.90,268.70H621.70M607.90,267.17V270.23M621.70,267.17V270.23" stroke="#f1c232" stroke-width="1.25" stroke-opacity="0.82" fill="none"/>
<circle cx="614.50" cy="268.70" r="2.1" fill="#f1c232"/>
<path d="M626.90,280.71H640.70M626.90,279.18V282.24M640.70,279.18V282.24" stroke="#f1c232" stroke-width="1.25" stroke-opacity="0.82" fill="none"/>
<circle cx="633.50" cy="280.71" r="2.1" fill="#f1c232"/>
<path d="M622.10,292.72H639.60M622.10,291.19V294.25M639.60,291.19V294.25" stroke="#f1c232" stroke-width="1.25" stroke-opacity="0.82" fill="none"/>
<circle cx="631.00" cy="292.72" r="2.1" fill="#f1c232"/>
<path d="M623.10,304.72H634.80M623.10,303.19V306.26M634.80,303.19V306.26" stroke="#f1c232" stroke-width="1.25" stroke-opacity="0.82" fill="none"/>
<circle cx="629.10" cy="304.72" r="2.1" fill="#f1c232"/>
<path d="M624.40,316.73H634.50M624.40,315.20V318.26M634.50,315.20V318.26" stroke="#f1c232" stroke-width="1.25" stroke-opacity="0.82" fill="none"/>
<circle cx="629.70" cy="316.73" r="2.1" fill="#f1c232"/>
<rect x="553.60" y="163.90" width="122.90" height="158.50" fill="none" stroke="#333333" stroke-width="0.8"/>
<line x1="551.40" y1="171.10" x2="553.60" y2="171.10" stroke="#333333" stroke-width="1.07"/>
<text x="549.40" y="173.90" font-size="6.5" text-anchor="end" fill="#333" stroke="#333" stroke-width="0.22" >CAG-83 sp900547745</text>
<line x1="551.40" y1="183.11" x2="553.60" y2="183.11" stroke="#333333" stroke-width="1.07"/>
<text x="549.40" y="185.91" font-size="6.5" text-anchor="end" fill="#333" stroke="#333" stroke-width="0.22" ><tspan font-style="italic">Prevotella</tspan> sp900553155</text>
<line x1="551.40" y1="195.12" x2="553.60" y2="195.12" stroke="#333333" stroke-width="1.07"/>
<text x="549.40" y="197.92" font-size="6.5" text-anchor="end" fill="#333" stroke="#333" stroke-width="0.22" >RC9 sp900546925</text>
<line x1="551.40" y1="207.13" x2="553.60" y2="207.13" stroke="#333333" stroke-width="1.07"/>
<text x="549.40" y="209.93" font-size="6.5" text-anchor="end" fill="#333" stroke="#333" stroke-width="0.22" >UMGS1585 sp.</text>
<line x1="551.40" y1="219.13" x2="553.60" y2="219.13" stroke="#333333" stroke-width="1.07"/>
<text x="549.40" y="221.93" font-size="6.5" text-anchor="end" fill="#333" stroke="#333" stroke-width="0.22" >RC9 sp000434935</text>
<line x1="551.40" y1="231.14" x2="553.60" y2="231.14" stroke="#333333" stroke-width="1.07"/>
<text x="549.40" y="233.94" font-size="6.5" text-anchor="end" fill="#333" stroke="#333" stroke-width="0.22" ><tspan font-style="italic">Prevotellamassilia</tspan> sp900543155</text>
<line x1="551.40" y1="243.15" x2="553.60" y2="243.15" stroke="#333333" stroke-width="1.07"/>
<text x="549.40" y="245.95" font-size="6.5" text-anchor="end" fill="#333" stroke="#333" stroke-width="0.22" >UMGS911 sp900545935</text>
<line x1="551.40" y1="255.16" x2="553.60" y2="255.16" stroke="#333333" stroke-width="1.07"/>
<text x="549.40" y="257.96" font-size="6.5" text-anchor="end" fill="#333" stroke="#333" stroke-width="0.22" ><tspan font-style="italic">Butyricicoccus</tspan>&#160; A sp002395695</text>
<line x1="551.40" y1="267.17" x2="553.60" y2="267.17" stroke="#333333" stroke-width="1.07"/>
<text x="549.40" y="269.97" font-size="6.5" text-anchor="end" fill="#333" stroke="#333" stroke-width="0.22" >UBA2883 sp.</text>
<line x1="551.40" y1="279.17" x2="553.60" y2="279.17" stroke="#333333" stroke-width="1.07"/>
<text x="549.40" y="281.97" font-size="6.5" text-anchor="end" fill="#333" stroke="#333" stroke-width="0.22" ><tspan font-style="italic">Faecalibacterium prausnitzii</tspan> A</text>
<line x1="551.40" y1="291.18" x2="553.60" y2="291.18" stroke="#333333" stroke-width="1.07"/>
<text x="549.40" y="293.98" font-size="6.5" text-anchor="end" fill="#333" stroke="#333" stroke-width="0.22" ><tspan font-style="italic">Eubacterium</tspan> R sp900539325</text>
<line x1="551.40" y1="303.19" x2="553.60" y2="303.19" stroke="#333333" stroke-width="1.07"/>
<text x="549.40" y="305.99" font-size="6.5" text-anchor="end" fill="#333" stroke="#333" stroke-width="0.22" >CAG-103 sp000432375</text>
<line x1="551.40" y1="315.20" x2="553.60" y2="315.20" stroke="#333333" stroke-width="1.07"/>
<text x="549.40" y="318.00" font-size="6.5" text-anchor="end" fill="#333" stroke="#333" stroke-width="0.22" ><tspan font-style="italic">Lachnospira</tspan> sp900316325</text>
<line x1="559.50" y1="322.40" x2="559.50" y2="324.60" stroke="#333333" stroke-width="1.07"/>
<text x="559.50" y="331.00" font-size="6.4" text-anchor="middle" fill="#4d4d4d" stroke="#4d4d4d" stroke-width="0.22" >-10</text>
<line x1="591.00" y1="322.40" x2="591.00" y2="324.60" stroke="#333333" stroke-width="1.07"/>
<text x="591.00" y="331.00" font-size="6.4" text-anchor="middle" fill="#4d4d4d" stroke="#4d4d4d" stroke-width="0.22" >-5</text>
<line x1="622.50" y1="322.40" x2="622.50" y2="324.60" stroke="#333333" stroke-width="1.07"/>
<text x="622.50" y="331.00" font-size="6.4" text-anchor="middle" fill="#4d4d4d" stroke="#4d4d4d" stroke-width="0.22" >0</text>
<line x1="654.00" y1="322.40" x2="654.00" y2="324.60" stroke="#333333" stroke-width="1.07"/>
<text x="654.00" y="331.00" font-size="6.4" text-anchor="middle" fill="#4d4d4d" stroke="#4d4d4d" stroke-width="0.22" >5</text>
<text x="622.40" y="342.20" font-size="9.4" text-anchor="middle" fill="#000" stroke="#000" stroke-width="0.0" >Birth length (cm)</text>
</g>
<g>
<line x1="103.18" y1="374.10" x2="103.18" y2="507.30" stroke="#eeeeee" stroke-width="0.55"/>
<line x1="131.93" y1="374.10" x2="131.93" y2="507.30" stroke="#eeeeee" stroke-width="0.55"/>
<line x1="160.68" y1="374.10" x2="160.68" y2="507.30" stroke="#eeeeee" stroke-width="0.55"/>
<line x1="189.43" y1="374.10" x2="189.43" y2="507.30" stroke="#eeeeee" stroke-width="0.55"/>
<line x1="117.55" y1="374.10" x2="117.55" y2="507.30" stroke="#eeeeee" stroke-width="1.07"/>
<line x1="146.30" y1="374.10" x2="146.30" y2="507.30" stroke="#eeeeee" stroke-width="1.07"/>
<line x1="175.05" y1="374.10" x2="175.05" y2="507.30" stroke="#eeeeee" stroke-width="1.07"/>
<line x1="203.80" y1="374.10" x2="203.80" y2="507.30" stroke="#eeeeee" stroke-width="1.07"/>
<line x1="90.60" y1="386.99" x2="210.00" y2="386.99" stroke="#eeeeee" stroke-width="1.07"/>
<line x1="90.60" y1="408.47" x2="210.00" y2="408.47" stroke="#eeeeee" stroke-width="1.07"/>
<line x1="90.60" y1="429.96" x2="210.00" y2="429.96" stroke="#eeeeee" stroke-width="1.07"/>
<line x1="90.60" y1="451.44" x2="210.00" y2="451.44" stroke="#eeeeee" stroke-width="1.07"/>
<line x1="90.60" y1="472.93" x2="210.00" y2="472.93" stroke="#eeeeee" stroke-width="1.07"/>
<line x1="90.60" y1="494.41" x2="210.00" y2="494.41" stroke="#eeeeee" stroke-width="1.07"/>
<line x1="146.30" y1="507.30" x2="146.30" y2="374.10" stroke="#a82c2c" stroke-width="1.15" stroke-dasharray="4.3,4.2"/>
<path d="M190.70,384.24H205.00M190.70,381.50V386.98M205.00,381.50V386.98" stroke="#3f7fba" stroke-width="1.25" stroke-opacity="0.82" fill="none"/>
<circle cx="197.90" cy="384.24" r="2.1" fill="#3f7fba"/>
<path d="M177.40,405.72H192.20M177.40,402.99V408.46M192.20,402.99V408.46" stroke="#3f7fba" stroke-width="1.25" stroke-opacity="0.82" fill="none"/>
<circle cx="184.30" cy="405.72" r="2.1" fill="#3f7fba"/>
<path d="M168.50,427.21H183.30M168.50,424.47V429.95M183.30,424.47V429.95" stroke="#3f7fba" stroke-width="1.25" stroke-opacity="0.82" fill="none"/>
<circle cx="175.70" cy="427.21" r="2.1" fill="#3f7fba"/>
<path d="M176.50,448.69H190.30M176.50,445.95V451.43M190.30,445.95V451.43" stroke="#3f7fba" stroke-width="1.25" stroke-opacity="0.82" fill="none"/>
<circle cx="183.10" cy="448.69" r="2.1" fill="#3f7fba"/>
<path d="M162.40,470.18H177.40M162.40,467.44V472.92M177.40,467.44V472.92" stroke="#3f7fba" stroke-width="1.25" stroke-opacity="0.82" fill="none"/>
<circle cx="170.00" cy="470.18" r="2.1" fill="#3f7fba"/>
<path d="M124.50,491.66H139.70M124.50,488.92V494.40M139.70,488.92V494.40" stroke="#3f7fba" stroke-width="1.25" stroke-opacity="0.82" fill="none"/>
<circle cx="132.10" cy="491.66" r="2.1" fill="#3f7fba"/>
<path d="M100.80,389.74H140.60M100.80,387.00V392.48M140.60,387.00V392.48" stroke="#f1c232" stroke-width="1.25" stroke-opacity="0.82" fill="none"/>
<circle cx="120.70" cy="389.74" r="2.1" fill="#f1c232"/>
<path d="M107.40,411.22H141.90M107.40,408.48V413.96M141.90,408.48V413.96" stroke="#f1c232" stroke-width="1.25" stroke-opacity="0.82" fill="none"/>
<circle cx="124.90" cy="411.22" r="2.1" fill="#f1c232"/>
<path d="M96.00,432.71H142.90M96.00,429.97V435.45M142.90,429.97V435.45" stroke="#f1c232" stroke-width="1.25" stroke-opacity="0.82" fill="none"/>
<circle cx="119.50" cy="432.71" r="2.1" fill="#f1c232"/>
<path d="M122.40,454.19H142.30M122.40,451.45V456.93M142.30,451.45V456.93" stroke="#f1c232" stroke-width="1.25" stroke-opacity="0.82" fill="none"/>
<circle cx="132.40" cy="454.19" r="2.1" fill="#f1c232"/>
<path d="M113.80,475.68H146.10M113.80,472.94V478.41M146.10,472.94V478.41" stroke="#f1c232" stroke-width="1.25" stroke-opacity="0.82" fill="none"/>
<circle cx="129.60" cy="475.68" r="2.1" fill="#f1c232"/>
<path d="M146.70,497.16H188.80M146.70,494.42V499.90M188.80,494.42V499.90" stroke="#f1c232" stroke-width="1.25" stroke-opacity="0.82" fill="none"/>
<circle cx="167.60" cy="497.16" r="2.1" fill="#f1c232"/>
<rect x="90.60" y="374.10" width="119.40" height="133.20" fill="none" stroke="#333333" stroke-width="0.8"/>
<line x1="88.40" y1="386.99" x2="90.60" y2="386.99" stroke="#333333" stroke-width="1.07"/>
<text x="87.40" y="389.79" font-size="6.5" text-anchor="end" fill="#333" stroke="#333" stroke-width="0.22" ><tspan font-style="italic">Ruminococcus</tspan> D <tspan font-style="italic">bicirculans</tspan></text>
<line x1="88.40" y1="408.47" x2="90.60" y2="408.47" stroke="#333333" stroke-width="1.07"/>
<text x="87.40" y="411.27" font-size="6.5" text-anchor="end" fill="#333" stroke="#333" stroke-width="0.22" >RC9 sp900546925</text>
<line x1="88.40" y1="429.96" x2="90.60" y2="429.96" stroke="#333333" stroke-width="1.07"/>
<text x="87.40" y="432.76" font-size="6.5" text-anchor="end" fill="#333" stroke="#333" stroke-width="0.22" >CAG-1435 sp.</text>
<line x1="88.40" y1="451.44" x2="90.60" y2="451.44" stroke="#333333" stroke-width="1.07"/>
<text x="87.40" y="454.24" font-size="6.5" text-anchor="end" fill="#333" stroke="#333" stroke-width="0.22" >CAG-632 sp000431515</text>
<line x1="88.40" y1="472.93" x2="90.60" y2="472.93" stroke="#333333" stroke-width="1.07"/>
<text x="87.40" y="475.73" font-size="6.5" text-anchor="end" fill="#333" stroke="#333" stroke-width="0.22" >UMGS1002 sp.</text>
<line x1="88.40" y1="494.41" x2="90.60" y2="494.41" stroke="#333333" stroke-width="1.07"/>
<text x="87.40" y="497.21" font-size="6.5" text-anchor="end" fill="#333" stroke="#333" stroke-width="0.22" >CAG-110 sp900556935</text>
<line x1="117.55" y1="507.30" x2="117.55" y2="509.50" stroke="#333333" stroke-width="1.07"/>
<text x="117.55" y="515.90" font-size="6.4" text-anchor="middle" fill="#4d4d4d" stroke="#4d4d4d" stroke-width="0.22" >-2.5</text>
<line x1="146.30" y1="507.30" x2="146.30" y2="509.50" stroke="#333333" stroke-width="1.07"/>
<text x="146.30" y="515.90" font-size="6.4" text-anchor="middle" fill="#4d4d4d" stroke="#4d4d4d" stroke-width="0.22" >0.0</text>
<line x1="175.05" y1="507.30" x2="175.05" y2="509.50" stroke="#333333" stroke-width="1.07"/>
<text x="175.05" y="515.90" font-size="6.4" text-anchor="middle" fill="#4d4d4d" stroke="#4d4d4d" stroke-width="0.22" >2.5</text>
<line x1="203.80" y1="507.30" x2="203.80" y2="509.50" stroke="#333333" stroke-width="1.07"/>
<text x="203.80" y="515.90" font-size="6.4" text-anchor="middle" fill="#4d4d4d" stroke="#4d4d4d" stroke-width="0.22" >5.0</text>
<text x="152.10" y="527.90" font-size="9.4" text-anchor="middle" fill="#000" stroke="#000" stroke-width="0.0" >Gestational age (weeks)</text>
</g>
<g>
<line x1="336.30" y1="374.00" x2="336.30" y2="506.40" stroke="#eeeeee" stroke-width="0.55"/>
<line x1="364.90" y1="374.00" x2="364.90" y2="506.40" stroke="#eeeeee" stroke-width="0.55"/>
<line x1="393.50" y1="374.00" x2="393.50" y2="506.40" stroke="#eeeeee" stroke-width="0.55"/>
<line x1="422.10" y1="374.00" x2="422.10" y2="506.40" stroke="#eeeeee" stroke-width="0.55"/>
<line x1="350.60" y1="374.00" x2="350.60" y2="506.40" stroke="#eeeeee" stroke-width="1.07"/>
<line x1="379.20" y1="374.00" x2="379.20" y2="506.40" stroke="#eeeeee" stroke-width="1.07"/>
<line x1="407.80" y1="374.00" x2="407.80" y2="506.40" stroke="#eeeeee" stroke-width="1.07"/>
<line x1="436.40" y1="374.00" x2="436.40" y2="506.40" stroke="#eeeeee" stroke-width="1.07"/>
<line x1="324.50" y1="385.03" x2="443.00" y2="385.03" stroke="#eeeeee" stroke-width="1.07"/>
<line x1="324.50" y1="403.42" x2="443.00" y2="403.42" stroke="#eeeeee" stroke-width="1.07"/>
<line x1="324.50" y1="421.81" x2="443.00" y2="421.81" stroke="#eeeeee" stroke-width="1.07"/>
<line x1="324.50" y1="440.20" x2="443.00" y2="440.20" stroke="#eeeeee" stroke-width="1.07"/>
<line x1="324.50" y1="458.59" x2="443.00" y2="458.59" stroke="#eeeeee" stroke-width="1.07"/>
<line x1="324.50" y1="476.98" x2="443.00" y2="476.98" stroke="#eeeeee" stroke-width="1.07"/>
<line x1="324.50" y1="495.37" x2="443.00" y2="495.37" stroke="#eeeeee" stroke-width="1.07"/>
<line x1="379.20" y1="506.40" x2="379.20" y2="374.00" stroke="#a82c2c" stroke-width="1.15" stroke-dasharray="4.3,4.2"/>
<path d="M406.70,382.68H431.00M406.70,380.33V385.02M431.00,380.33V385.02" stroke="#3f7fba" stroke-width="1.25" stroke-opacity="0.82" fill="none"/>
<circle cx="418.70" cy="382.68" r="2.1" fill="#3f7fba"/>
<path d="M412.60,401.07H438.00M412.60,398.72V403.41M438.00,398.72V403.41" stroke="#3f7fba" stroke-width="1.25" stroke-opacity="0.82" fill="none"/>
<circle cx="425.00" cy="401.07" r="2.1" fill="#3f7fba"/>
<path d="M401.60,419.46H426.70M401.60,417.11V421.80M426.70,417.11V421.80" stroke="#3f7fba" stroke-width="1.25" stroke-opacity="0.82" fill="none"/>
<circle cx="413.90" cy="419.46" r="2.1" fill="#3f7fba"/>
<path d="M392.10,437.85H416.40M392.10,435.50V440.19M416.40,435.50V440.19" stroke="#3f7fba" stroke-width="1.25" stroke-opacity="0.82" fill="none"/>
<circle cx="404.50" cy="437.85" r="2.1" fill="#3f7fba"/>
<path d="M351.30,456.24H375.40M351.30,453.89V458.58M375.40,453.89V458.58" stroke="#3f7fba" stroke-width="1.25" stroke-opacity="0.82" fill="none"/>
<circle cx="363.30" cy="456.24" r="2.1" fill="#3f7fba"/>
<path d="M373.70,474.62H399.30M373.70,472.28V476.97M399.30,472.28V476.97" stroke="#3f7fba" stroke-width="1.25" stroke-opacity="0.82" fill="none"/>
<circle cx="386.40" cy="474.62" r="2.1" fill="#3f7fba"/>
<path d="M371.60,493.01H395.50M371.60,490.67V495.36M395.50,490.67V495.36" stroke="#3f7fba" stroke-width="1.25" stroke-opacity="0.82" fill="none"/>
<circle cx="383.60" cy="493.01" r="2.1" fill="#3f7fba"/>
<path d="M334.60,387.39H372.20M334.60,385.04V389.73M372.20,385.04V389.73" stroke="#f1c232" stroke-width="1.25" stroke-opacity="0.82" fill="none"/>
<circle cx="353.20" cy="387.39" r="2.1" fill="#f1c232"/>
<path d="M347.90,405.78H378.50M347.90,403.43V408.12M378.50,403.43V408.12" stroke="#f1c232" stroke-width="1.25" stroke-opacity="0.82" fill="none"/>
<circle cx="363.10" cy="405.78" r="2.1" fill="#f1c232"/>
<path d="M335.60,424.16H374.10M335.60,421.82V426.51M374.10,421.82V426.51" stroke="#f1c232" stroke-width="1.25" stroke-opacity="0.82" fill="none"/>
<circle cx="354.70" cy="424.16" r="2.1" fill="#f1c232"/>
<path d="M329.90,442.55H374.30M329.90,440.21V444.90M374.30,440.21V444.90" stroke="#f1c232" stroke-width="1.25" stroke-opacity="0.82" fill="none"/>
<circle cx="352.30" cy="442.55" r="2.1" fill="#f1c232"/>
<path d="M379.40,460.94H424.40M379.40,458.60V463.29M424.40,458.60V463.29" stroke="#f1c232" stroke-width="1.25" stroke-opacity="0.82" fill="none"/>
<circle cx="402.00" cy="460.94" r="2.1" fill="#f1c232"/>
<path d="M339.40,479.33H378.80M339.40,476.99V481.68M378.80,476.99V481.68" stroke="#f1c232" stroke-width="1.25" stroke-opacity="0.82" fill="none"/>
<circle cx="358.90" cy="479.33" r="2.1" fill="#f1c232"/>
<path d="M350.40,497.72H374.70M350.40,495.38V500.07M374.70,495.38V500.07" stroke="#f1c232" stroke-width="1.25" stroke-opacity="0.82" fill="none"/>
<circle cx="362.70" cy="497.72" r="2.1" fill="#f1c232"/>
<rect x="324.50" y="374.00" width="118.50" height="132.40" fill="none" stroke="#333333" stroke-width="0.8"/>
<line x1="322.30" y1="385.03" x2="324.50" y2="385.03" stroke="#333333" stroke-width="1.07"/>
<text x="321.20" y="387.83" font-size="6.5" text-anchor="end" fill="#333" stroke="#333" stroke-width="0.22" ><tspan font-style="italic">Ruminococcus</tspan> D <tspan font-style="italic">bicirculans</tspan></text>
<line x1="322.30" y1="403.42" x2="324.50" y2="403.42" stroke="#333333" stroke-width="1.07"/>
<text x="321.20" y="406.22" font-size="6.5" text-anchor="end" fill="#333" stroke="#333" stroke-width="0.22" >UBA4636 sp.</text>
<line x1="322.30" y1="421.81" x2="324.50" y2="421.81" stroke="#333333" stroke-width="1.07"/>
<text x="321.20" y="424.61" font-size="6.5" text-anchor="end" fill="#333" stroke="#333" stroke-width="0.22" >RC9 sp900546925</text>
<line x1="322.30" y1="440.20" x2="324.50" y2="440.20" stroke="#333333" stroke-width="1.07"/>
<text x="321.20" y="443.00" font-size="6.5" text-anchor="end" fill="#333" stroke="#333" stroke-width="0.22" >CAG-1435 sp.</text>
<line x1="322.30" y1="458.59" x2="324.50" y2="458.59" stroke="#333333" stroke-width="1.07"/>
<text x="321.20" y="461.39" font-size="6.5" text-anchor="end" fill="#333" stroke="#333" stroke-width="0.22" >CAG-110 sp900556935</text>
<line x1="322.30" y1="476.98" x2="324.50" y2="476.98" stroke="#333333" stroke-width="1.07"/>
<text x="321.20" y="479.78" font-size="6.5" text-anchor="end" fill="#333" stroke="#333" stroke-width="0.22" >UMGS1002 sp.</text>
<line x1="322.30" y1="495.37" x2="324.50" y2="495.37" stroke="#333333" stroke-width="1.07"/>
<text x="321.20" y="498.17" font-size="6.5" text-anchor="end" fill="#333" stroke="#333" stroke-width="0.22" >CAG-632 sp000431515</text>
<line x1="350.60" y1="506.40" x2="350.60" y2="508.60" stroke="#333333" stroke-width="1.07"/>
<text x="350.60" y="515.00" font-size="6.4" text-anchor="middle" fill="#4d4d4d" stroke="#4d4d4d" stroke-width="0.22" >-0.4</text>
<line x1="379.20" y1="506.40" x2="379.20" y2="508.60" stroke="#333333" stroke-width="1.07"/>
<text x="379.20" y="515.00" font-size="6.4" text-anchor="middle" fill="#4d4d4d" stroke="#4d4d4d" stroke-width="0.22" >0.0</text>
<line x1="407.80" y1="506.40" x2="407.80" y2="508.60" stroke="#333333" stroke-width="1.07"/>
<text x="407.80" y="515.00" font-size="6.4" text-anchor="middle" fill="#4d4d4d" stroke="#4d4d4d" stroke-width="0.22" >0.4</text>
<line x1="436.40" y1="506.40" x2="436.40" y2="508.60" stroke="#333333" stroke-width="1.07"/>
<text x="436.40" y="515.00" font-size="6.4" text-anchor="middle" fill="#4d4d4d" stroke="#4d4d4d" stroke-width="0.22" >0.8</text>
<text x="397.50" y="527.70" font-size="9.4" text-anchor="middle" fill="#000" stroke="#000" stroke-width="0.0" >Birth weight (kg)</text>
</g>
<g>
<line x1="560.77" y1="373.80" x2="560.77" y2="507.40" stroke="#eeeeee" stroke-width="0.55"/>
<line x1="591.52" y1="373.80" x2="591.52" y2="507.40" stroke="#eeeeee" stroke-width="0.55"/>
<line x1="622.27" y1="373.80" x2="622.27" y2="507.40" stroke="#eeeeee" stroke-width="0.55"/>
<line x1="653.02" y1="373.80" x2="653.02" y2="507.40" stroke="#eeeeee" stroke-width="0.55"/>
<line x1="576.15" y1="373.80" x2="576.15" y2="507.40" stroke="#eeeeee" stroke-width="1.07"/>
<line x1="606.90" y1="373.80" x2="606.90" y2="507.40" stroke="#eeeeee" stroke-width="1.07"/>
<line x1="637.65" y1="373.80" x2="637.65" y2="507.40" stroke="#eeeeee" stroke-width="1.07"/>
<line x1="668.40" y1="373.80" x2="668.40" y2="507.40" stroke="#eeeeee" stroke-width="1.07"/>
<line x1="554.20" y1="384.93" x2="673.40" y2="384.93" stroke="#eeeeee" stroke-width="1.07"/>
<line x1="554.20" y1="403.49" x2="673.40" y2="403.49" stroke="#eeeeee" stroke-width="1.07"/>
<line x1="554.20" y1="422.04" x2="673.40" y2="422.04" stroke="#eeeeee" stroke-width="1.07"/>
<line x1="554.20" y1="440.60" x2="673.40" y2="440.60" stroke="#eeeeee" stroke-width="1.07"/>
<line x1="554.20" y1="459.16" x2="673.40" y2="459.16" stroke="#eeeeee" stroke-width="1.07"/>
<line x1="554.20" y1="477.71" x2="673.40" y2="477.71" stroke="#eeeeee" stroke-width="1.07"/>
<line x1="554.20" y1="496.27" x2="673.40" y2="496.27" stroke="#eeeeee" stroke-width="1.07"/>
<line x1="606.90" y1="507.40" x2="606.90" y2="373.80" stroke="#a82c2c" stroke-width="1.15" stroke-dasharray="4.3,4.2"/>
<path d="M643.40,382.56H662.00M643.40,380.19V384.92M662.00,380.19V384.92" stroke="#3f7fba" stroke-width="1.25" stroke-opacity="0.82" fill="none"/>
<circle cx="652.50" cy="382.56" r="2.1" fill="#3f7fba"/>
<path d="M648.70,401.11H668.60M648.70,398.75V403.48M668.60,398.75V403.48" stroke="#3f7fba" stroke-width="1.25" stroke-opacity="0.82" fill="none"/>
<circle cx="658.60" cy="401.11" r="2.1" fill="#3f7fba"/>
<path d="M634.50,419.67H654.40M634.50,417.30V422.04M654.40,417.30V422.04" stroke="#3f7fba" stroke-width="1.25" stroke-opacity="0.82" fill="none"/>
<circle cx="644.30" cy="419.67" r="2.1" fill="#3f7fba"/>
<path d="M628.40,438.22H648.30M628.40,435.86V440.59M648.30,435.86V440.59" stroke="#3f7fba" stroke-width="1.25" stroke-opacity="0.82" fill="none"/>
<circle cx="638.30" cy="438.22" r="2.1" fill="#3f7fba"/>
<path d="M609.80,456.78H629.30M609.80,454.41V459.15M629.30,454.41V459.15" stroke="#3f7fba" stroke-width="1.25" stroke-opacity="0.82" fill="none"/>
<circle cx="619.30" cy="456.78" r="2.1" fill="#3f7fba"/>
<path d="M591.80,475.34H611.30M591.80,472.97V477.70M611.30,472.97V477.70" stroke="#3f7fba" stroke-width="1.25" stroke-opacity="0.82" fill="none"/>
<circle cx="601.60" cy="475.34" r="2.1" fill="#3f7fba"/>
<path d="M607.90,493.89H627.40M607.90,491.53V496.26M627.40,491.53V496.26" stroke="#3f7fba" stroke-width="1.25" stroke-opacity="0.82" fill="none"/>
<circle cx="617.80" cy="493.89" r="2.1" fill="#3f7fba"/>
<path d="M562.70,387.31H599.70M562.70,384.94V389.67M599.70,384.94V389.67" stroke="#f1c232" stroke-width="1.25" stroke-opacity="0.82" fill="none"/>
<circle cx="581.30" cy="387.31" r="2.1" fill="#f1c232"/>
<path d="M576.60,405.86H606.40M576.60,403.50V408.23M606.40,403.50V408.23" stroke="#f1c232" stroke-width="1.25" stroke-opacity="0.82" fill="none"/>
<circle cx="591.40" cy="405.86" r="2.1" fill="#f1c232"/>
<path d="M565.60,424.42H602.20M565.60,422.05V426.79M602.20,422.05V426.79" stroke="#f1c232" stroke-width="1.25" stroke-opacity="0.82" fill="none"/>
<circle cx="584.20" cy="424.42" r="2.1" fill="#f1c232"/>
<path d="M559.50,442.98H602.40M559.50,440.61V445.34M602.40,440.61V445.34" stroke="#f1c232" stroke-width="1.25" stroke-opacity="0.82" fill="none"/>
<circle cx="581.30" cy="442.98" r="2.1" fill="#f1c232"/>
<path d="M568.40,461.53H606.40M568.40,459.16V463.90M606.40,459.16V463.90" stroke="#f1c232" stroke-width="1.25" stroke-opacity="0.82" fill="none"/>
<circle cx="587.60" cy="461.53" r="2.1" fill="#f1c232"/>
<path d="M606.90,480.09H651.90M606.90,477.72V482.45M651.90,477.72V482.45" stroke="#f1c232" stroke-width="1.25" stroke-opacity="0.82" fill="none"/>
<circle cx="629.30" cy="480.09" r="2.1" fill="#f1c232"/>
<path d="M578.50,498.64H602.60M578.50,496.28V501.01M602.60,496.28V501.01" stroke="#f1c232" stroke-width="1.25" stroke-opacity="0.82" fill="none"/>
<circle cx="590.80" cy="498.64" r="2.1" fill="#f1c232"/>
<rect x="554.20" y="373.80" width="119.20" height="133.60" fill="none" stroke="#333333" stroke-width="0.8"/>
<line x1="552.00" y1="384.93" x2="554.20" y2="384.93" stroke="#333333" stroke-width="1.07"/>
<text x="550.00" y="387.73" font-size="6.5" text-anchor="end" fill="#333" stroke="#333" stroke-width="0.22" ><tspan font-style="italic">Ruminococcus</tspan> D <tspan font-style="italic">bicirculans</tspan></text>
<line x1="552.00" y1="403.49" x2="554.20" y2="403.49" stroke="#333333" stroke-width="1.07"/>
<text x="550.00" y="406.29" font-size="6.5" text-anchor="end" fill="#333" stroke="#333" stroke-width="0.22" >UBA4636 sp.</text>
<line x1="552.00" y1="422.04" x2="554.20" y2="422.04" stroke="#333333" stroke-width="1.07"/>
<text x="550.00" y="424.84" font-size="6.5" text-anchor="end" fill="#333" stroke="#333" stroke-width="0.22" >RC9 sp900546925</text>
<line x1="552.00" y1="440.60" x2="554.20" y2="440.60" stroke="#333333" stroke-width="1.07"/>
<text x="550.00" y="443.40" font-size="6.5" text-anchor="end" fill="#333" stroke="#333" stroke-width="0.22" >CAG-1435 sp.</text>
<line x1="552.00" y1="459.16" x2="554.20" y2="459.16" stroke="#333333" stroke-width="1.07"/>
<text x="550.00" y="461.96" font-size="6.5" text-anchor="end" fill="#333" stroke="#333" stroke-width="0.22" >UMGS1002 sp.</text>
<line x1="552.00" y1="477.71" x2="554.20" y2="477.71" stroke="#333333" stroke-width="1.07"/>
<text x="550.00" y="480.51" font-size="6.5" text-anchor="end" fill="#333" stroke="#333" stroke-width="0.22" >CAG-110 sp900556935</text>
<line x1="552.00" y1="496.27" x2="554.20" y2="496.27" stroke="#333333" stroke-width="1.07"/>
<text x="550.00" y="499.07" font-size="6.5" text-anchor="end" fill="#333" stroke="#333" stroke-width="0.22" >CAG-632 sp000431515</text>
<line x1="576.15" y1="507.40" x2="576.15" y2="509.60" stroke="#333333" stroke-width="1.07"/>
<text x="576.15" y="516.00" font-size="6.4" text-anchor="middle" fill="#4d4d4d" stroke="#4d4d4d" stroke-width="0.22" >-2.5</text>
<line x1="606.90" y1="507.40" x2="606.90" y2="509.60" stroke="#333333" stroke-width="1.07"/>
<text x="606.90" y="516.00" font-size="6.4" text-anchor="middle" fill="#4d4d4d" stroke="#4d4d4d" stroke-width="0.22" >0.0</text>
<line x1="637.65" y1="507.40" x2="637.65" y2="509.60" stroke="#333333" stroke-width="1.07"/>
<text x="637.65" y="516.00" font-size="6.4" text-anchor="middle" fill="#4d4d4d" stroke="#4d4d4d" stroke-width="0.22" >2.5</text>
<line x1="668.40" y1="507.40" x2="668.40" y2="509.60" stroke="#333333" stroke-width="1.07"/>
<text x="668.40" y="516.00" font-size="6.4" text-anchor="middle" fill="#4d4d4d" stroke="#4d4d4d" stroke-width="0.22" >5.0</text>
<text x="620.00" y="527.70" font-size="9.4" text-anchor="middle" fill="#000" stroke="#000" stroke-width="0.0" >Birth length (cm)</text>
</g>
<g>
<line x1="98.95" y1="563.50" x2="98.95" y2="615.90" stroke="#eeeeee" stroke-width="0.55"/>
<line x1="121.25" y1="563.50" x2="121.25" y2="615.90" stroke="#eeeeee" stroke-width="0.55"/>
<line x1="143.55" y1="563.50" x2="143.55" y2="615.90" stroke="#eeeeee" stroke-width="0.55"/>
<line x1="165.85" y1="563.50" x2="165.85" y2="615.90" stroke="#eeeeee" stroke-width="0.55"/>
<line x1="188.15" y1="563.50" x2="188.15" y2="615.90" stroke="#eeeeee" stroke-width="0.55"/>
<line x1="110.10" y1="563.50" x2="110.10" y2="615.90" stroke="#eeeeee" stroke-width="1.07"/>
<line x1="132.40" y1="563.50" x2="132.40" y2="615.90" stroke="#eeeeee" stroke-width="1.07"/>
<line x1="154.70" y1="563.50" x2="154.70" y2="615.90" stroke="#eeeeee" stroke-width="1.07"/>
<line x1="177.00" y1="563.50" x2="177.00" y2="615.90" stroke="#eeeeee" stroke-width="1.07"/>
<line x1="199.30" y1="563.50" x2="199.30" y2="615.90" stroke="#eeeeee" stroke-width="1.07"/>
<line x1="89.70" y1="577.79" x2="209.40" y2="577.79" stroke="#eeeeee" stroke-width="1.07"/>
<line x1="89.70" y1="601.61" x2="209.40" y2="601.61" stroke="#eeeeee" stroke-width="1.07"/>
<line x1="132.40" y1="615.90" x2="132.40" y2="563.50" stroke="#a82c2c" stroke-width="1.15" stroke-dasharray="4.3,4.2"/>
<path d="M109.70,574.74H204.00M109.70,571.71V577.78M204.00,571.71V577.78" stroke="#3f7fba" stroke-width="1.25" stroke-opacity="0.82" fill="none"/>
<circle cx="156.70" cy="574.74" r="2.1" fill="#3f7fba"/>
<path d="M94.50,598.56H194.50M94.50,595.52V601.60M194.50,595.52V601.60" stroke="#3f7fba" stroke-width="1.25" stroke-opacity="0.82" fill="none"/>
<circle cx="144.80" cy="598.56" r="2.1" fill="#3f7fba"/>
<path d="M105.50,580.84H131.50M105.50,577.80V583.88M131.50,577.80V583.88" stroke="#f1c232" stroke-width="1.25" stroke-opacity="0.82" fill="none"/>
<circle cx="118.60" cy="580.84" r="2.1" fill="#f1c232"/>
<path d="M133.40,604.66H146.70M133.40,601.62V607.69M146.70,601.62V607.69" stroke="#f1c232" stroke-width="1.25" stroke-opacity="0.82" fill="none"/>
<circle cx="140.00" cy="604.66" r="2.1" fill="#f1c232"/>
<rect x="89.70" y="563.50" width="119.70" height="52.40" fill="none" stroke="#333333" stroke-width="0.8"/>
<line x1="87.50" y1="577.79" x2="89.70" y2="577.79" stroke="#333333" stroke-width="1.07"/>
<text x="86.00" y="580.19" font-size="6.5" text-anchor="end" fill="#333" stroke="#333" stroke-width="0.22" ><tspan font-style="italic">Bifidobacterium breve</tspan></text>
<line x1="87.50" y1="601.61" x2="89.70" y2="601.61" stroke="#333333" stroke-width="1.07"/>
<text x="86.00" y="604.01" font-size="6.5" text-anchor="end" fill="#333" stroke="#333" stroke-width="0.22" ><tspan font-style="italic">Streptococcus</tspan> sp000187445</text>
<line x1="110.10" y1="615.90" x2="110.10" y2="618.10" stroke="#333333" stroke-width="1.07"/>
<text x="110.10" y="624.50" font-size="6.4" text-anchor="middle" fill="#4d4d4d" stroke="#4d4d4d" stroke-width="0.22" >-0.2</text>
<line x1="132.40" y1="615.90" x2="132.40" y2="618.10" stroke="#333333" stroke-width="1.07"/>
<text x="132.40" y="624.50" font-size="6.4" text-anchor="middle" fill="#4d4d4d" stroke="#4d4d4d" stroke-width="0.22" >0.0</text>
<line x1="154.70" y1="615.90" x2="154.70" y2="618.10" stroke="#333333" stroke-width="1.07"/>
<text x="154.70" y="624.50" font-size="6.4" text-anchor="middle" fill="#4d4d4d" stroke="#4d4d4d" stroke-width="0.22" >0.2</text>
<line x1="177.00" y1="615.90" x2="177.00" y2="618.10" stroke="#333333" stroke-width="1.07"/>
<text x="177.00" y="624.50" font-size="6.4" text-anchor="middle" fill="#4d4d4d" stroke="#4d4d4d" stroke-width="0.22" >0.4</text>
<line x1="199.30" y1="615.90" x2="199.30" y2="618.10" stroke="#333333" stroke-width="1.07"/>
<text x="199.30" y="624.50" font-size="6.4" text-anchor="middle" fill="#4d4d4d" stroke="#4d4d4d" stroke-width="0.22" >0.6</text>
<text x="151.20" y="638.10" font-size="9.4" text-anchor="middle" fill="#000" stroke="#000" stroke-width="0.0" >WAZ at six months</text>
</g>
<g>
<line x1="332.10" y1="563.50" x2="332.10" y2="616.30" stroke="#eeeeee" stroke-width="0.55"/>
<line x1="359.70" y1="563.50" x2="359.70" y2="616.30" stroke="#eeeeee" stroke-width="0.55"/>
<line x1="387.30" y1="563.50" x2="387.30" y2="616.30" stroke="#eeeeee" stroke-width="0.55"/>
<line x1="414.90" y1="563.50" x2="414.90" y2="616.30" stroke="#eeeeee" stroke-width="0.55"/>
<line x1="345.90" y1="563.50" x2="345.90" y2="616.30" stroke="#eeeeee" stroke-width="1.07"/>
<line x1="373.50" y1="563.50" x2="373.50" y2="616.30" stroke="#eeeeee" stroke-width="1.07"/>
<line x1="401.10" y1="563.50" x2="401.10" y2="616.30" stroke="#eeeeee" stroke-width="1.07"/>
<line x1="428.70" y1="563.50" x2="428.70" y2="616.30" stroke="#eeeeee" stroke-width="1.07"/>
<line x1="324.50" y1="577.90" x2="444.50" y2="577.90" stroke="#eeeeee" stroke-width="1.07"/>
<line x1="324.50" y1="601.90" x2="444.50" y2="601.90" stroke="#eeeeee" stroke-width="1.07"/>
<line x1="373.50" y1="616.30" x2="373.50" y2="563.50" stroke="#a82c2c" stroke-width="1.15" stroke-dasharray="4.3,4.2"/>
<path d="M330.40,574.83H439.00M330.40,571.77V577.89M439.00,571.77V577.89" stroke="#3f7fba" stroke-width="1.25" stroke-opacity="0.82" fill="none"/>
<circle cx="384.50" cy="574.83" r="2.1" fill="#3f7fba"/>
<path d="M329.90,598.83H432.00M329.90,595.77V601.89M432.00,595.77V601.89" stroke="#3f7fba" stroke-width="1.25" stroke-opacity="0.82" fill="none"/>
<circle cx="380.70" cy="598.83" r="2.1" fill="#3f7fba"/>
<path d="M334.60,580.97H371.20M334.60,577.91V584.03M371.20,577.91V584.03" stroke="#f1c232" stroke-width="1.25" stroke-opacity="0.82" fill="none"/>
<circle cx="353.20" cy="580.97" r="2.1" fill="#f1c232"/>
<path d="M376.40,604.97H393.10M376.40,601.91V608.03M393.10,601.91V608.03" stroke="#f1c232" stroke-width="1.25" stroke-opacity="0.82" fill="none"/>
<circle cx="384.50" cy="604.97" r="2.1" fill="#f1c232"/>
<rect x="324.50" y="563.50" width="120.00" height="52.80" fill="none" stroke="#333333" stroke-width="0.8"/>
<line x1="322.30" y1="577.90" x2="324.50" y2="577.90" stroke="#333333" stroke-width="1.07"/>
<text x="321.10" y="580.30" font-size="6.5" text-anchor="end" fill="#333" stroke="#333" stroke-width="0.22" ><tspan font-style="italic">Bifidobacterium breve</tspan></text>
<line x1="322.30" y1="601.90" x2="324.50" y2="601.90" stroke="#333333" stroke-width="1.07"/>
<text x="321.10" y="604.30" font-size="6.5" text-anchor="end" fill="#333" stroke="#333" stroke-width="0.22" ><tspan font-style="italic">Streptococcus</tspan> sp000187445</text>
<line x1="345.90" y1="616.30" x2="345.90" y2="618.50" stroke="#333333" stroke-width="1.07"/>
<text x="345.90" y="624.90" font-size="6.4" text-anchor="middle" fill="#4d4d4d" stroke="#4d4d4d" stroke-width="0.22" >-0.2</text>
<line x1="373.50" y1="616.30" x2="373.50" y2="618.50" stroke="#333333" stroke-width="1.07"/>
<text x="373.50" y="624.90" font-size="6.4" text-anchor="middle" fill="#4d4d4d" stroke="#4d4d4d" stroke-width="0.22" >0.0</text>
<line x1="401.10" y1="616.30" x2="401.10" y2="618.50" stroke="#333333" stroke-width="1.07"/>
<text x="401.10" y="624.90" font-size="6.4" text-anchor="middle" fill="#4d4d4d" stroke="#4d4d4d" stroke-width="0.22" >0.2</text>
<line x1="428.70" y1="616.30" x2="428.70" y2="618.50" stroke="#333333" stroke-width="1.07"/>
<text x="428.70" y="624.90" font-size="6.4" text-anchor="middle" fill="#4d4d4d" stroke="#4d4d4d" stroke-width="0.22" >0.4</text>
<text x="390.50" y="638.10" font-size="9.4" text-anchor="middle" fill="#000" stroke="#000" stroke-width="0.0" >WLZ at six months</text>
</g>
<line x1="469.2" y1="583.1" x2="483.8" y2="583.1" stroke="#fbbc05" stroke-width="1.7"/>
<circle cx="476.5" cy="583.1" r="2.6" fill="#fbbc05"/>
<text x="491.30" y="586.90" font-size="10.5" text-anchor="start" fill="#1a1a1a" stroke="#1a1a1a" stroke-width="0.0" >Indirect</text>
<line x1="468.9" y1="596.7" x2="482.7" y2="596.7" stroke="#1f66b0" stroke-width="1.5"/>
<circle cx="476.0" cy="596.7" r="2.5" fill="#1f66b0"/>
<text x="491.00" y="600.60" font-size="10.5" text-anchor="start" fill="#1a1a1a" stroke="#1a1a1a" stroke-width="0.0" >Direct</text>
</svg>
</body></html>
